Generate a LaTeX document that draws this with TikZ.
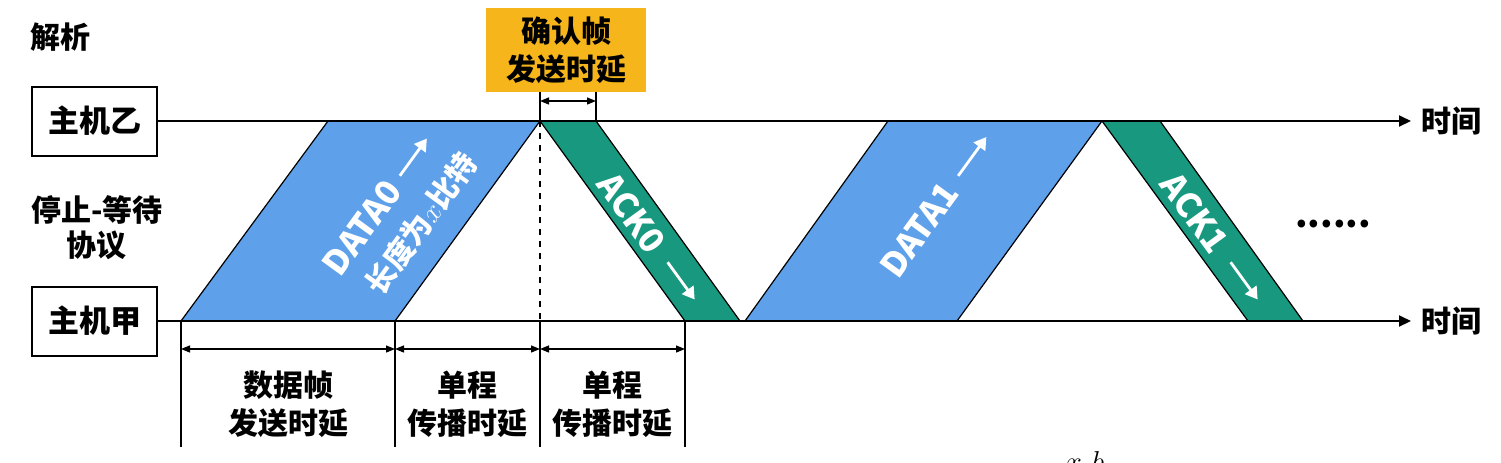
\documentclass[tikz,border=0pt]{standalone}
\usepackage{fontspec}
\setmainfont{Noto Sans CJK SC}
\usetikzlibrary{arrows.meta}
\definecolor{datablue}{RGB}{94,160,233}
\definecolor{ackgreen}{RGB}{24,152,127}
\definecolor{boxorange}{RGB}{246,181,26}
\begin{document}
\begin{tikzpicture}[x=0.5pt,y=-0.5pt,
  cjk/.style={font=\fontsize{15}{19}\selectfont\bfseries, inner sep=0pt, align=center},
  host/.style={draw, line width=1pt, minimum width=62.5pt, minimum height=34.5pt, inner sep=0pt, font=\fontsize{15.5}{19}\selectfont\bfseries},
  tl/.style={line width=1pt, -{Triangle[length=6pt,width=5.5pt]}},
  band/.style={draw=black, line width=0.6pt},
  dim/.style={line width=0.6pt, {Triangle[length=4.5pt,width=3.5pt]}-{Triangle[length=4.5pt,width=3.5pt]}},
  tick/.style={line width=0.6pt},
  wlab/.style={text=white, font=\fontsize{17}{20}\selectfont\bfseries, inner sep=0pt, transform shape},
  warr/.style={white, line width=1.4pt, -{Triangle[length=6pt,width=7pt]}}]
\useasboundingbox (0,0) rectangle (1501,462);

% bands
\filldraw[band, fill=datablue] (181,321) -- (395,321) -- (540,121) -- (328,121) -- cycle;
\filldraw[band, fill=ackgreen] (540,121) -- (596,121) -- (740,321) -- (685,321) -- cycle;
\filldraw[band, fill=datablue] (745,321) -- (957,321) -- (1102,121) -- (888,121) -- cycle;
\filldraw[band, fill=ackgreen] (1102,121) -- (1160,121) -- (1303,321) -- (1248,321) -- cycle;

% hosts and time lines
\node[host] (hB) at (94.5,121) {主机乙};
\node[host] (hA) at (94.5,321) {主机甲};
\node[cjk, anchor=west] (tB) at (1421,121) {时间};
\node[cjk, anchor=west] (tA) at (1421,321) {时间};
\draw[tl] (hB.east) -- ([xshift=-5pt]tB.west);
\draw[tl] (hA.east) -- ([xshift=-5pt]tA.west);

% left texts
\node[cjk, anchor=west] (jx) at (30,37) {解析};
\node[cjk, font=\fontsize{15}{17.5}\selectfont\bfseries] (tw) at (97,228) {停止-等待\\协议};

% dashed line
\coordinate (p540t) at (540,121);
\coordinate (p540b) at (540,321);
\draw[dashed, line width=0.6pt] (p540t) -- (p540b);

% top dimension
\node[cjk, fill=boxorange, minimum width=80pt, minimum height=42pt] (ackbox) at (566,50) {确认帧\\发送时延};
\coordinate (ta1) at (540,92);
\coordinate (ta2) at (596,92);
\coordinate (tb2) at (596,121);
\coordinate (da1) at (540,101);
\coordinate (da2) at (596,101);
\draw[tick] (ta1) -- (p540t);
\draw[tick] (ta2) -- (tb2);
\draw[dim] (da1) -- (da2);

% bottom dimensions
\coordinate (b1t) at (181,321); \coordinate (b1b) at (181,447);
\coordinate (b2t) at (395,321); \coordinate (b2b) at (395,447);
\coordinate (b3b) at (540,447);
\coordinate (b4t) at (685,321); \coordinate (b4b) at (685,447);
\draw[tick] (b1t) -- (b1b);
\draw[tick] (b2t) -- (b2b);
\draw[tick] (p540b) -- (b3b);
\draw[tick] (b4t) -- (b4b);
\coordinate (m1) at (181,349); \coordinate (m2) at (395,349);
\coordinate (m3) at (540,349); \coordinate (m4) at (685,349);
\draw[dim] (m1) -- (m2);
\draw[dim] (m2) -- (m3);
\draw[dim] (m3) -- (m4);
\node[cjk] (l1) at (288,404) {数据帧\\发送时延};
\node[cjk] (l2) at (467.5,404) {单程\\传播时延};
\node[cjk] (l3) at (612.5,404) {单程\\传播时延};

% rotated labels
\begin{scope}[shift={(400,213)}, rotate=54]
  \node[wlab, anchor=west] (d0) at (-88,-22) {DATA0};
  \coordinate (d0s) at (30,-22); \coordinate (d0e) at (76,-22);
  \draw[warr] (d0s) -- (d0e);
  \node[wlab, font=\fontsize{15}{19}\selectfont\bfseries] (d0b) at (4,23) {长度为$x$比特};
\end{scope}
\begin{scope}[shift={(650,238)}, rotate=-54]
  \node[wlab, anchor=west] (a0) at (-76,0) {ACK0};
  \coordinate (a0s) at (30,0); \coordinate (a0e) at (76,0);
  \draw[warr] (a0s) -- (a0e);
\end{scope}
\begin{scope}[shift={(937,205)}, rotate=54]
  \node[wlab, anchor=west] (d1) at (-84,0) {DATA1};
  \coordinate (d1s) at (36,0); \coordinate (d1e) at (84,0);
  \draw[warr] (d1s) -- (d1e);
\end{scope}
\begin{scope}[shift={(1213,238)}, rotate=-54]
  \node[wlab, anchor=west] (a1) at (-76,0) {ACK1};
  \coordinate (a1s) at (30,0); \coordinate (a1e) at (76,0);
  \draw[warr] (a1s) -- (a1e);
\end{scope}

\node[font=\fontsize{18}{20}\selectfont\bfseries, inner sep=0pt] (dots) at (1333,224) {......};

% partial formula at the bottom edge
\node[anchor=base, font=\fontsize{15}{18}\selectfont, inner sep=0pt] (fx) at (1074,471) {$x$};
\node[anchor=base, font=\fontsize{15}{18}\selectfont, inner sep=0pt] (fb) at (1098,471) {$b$};
\end{tikzpicture}
\end{document}
